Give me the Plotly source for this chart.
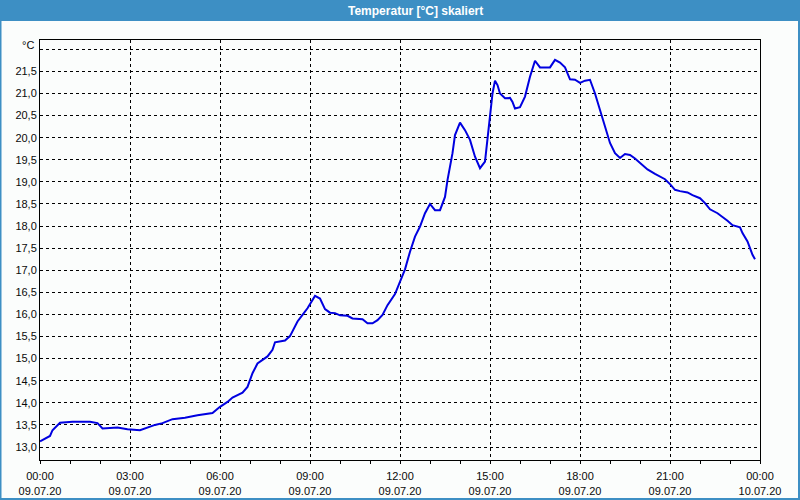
import plotly.graph_objects as go
from datetime import datetime, timedelta

# ---- data ----
times = ["00:00","00:20","00:25","00:35","00:40","01:05","01:40","01:55","02:05","02:35",
         "02:55","03:20","03:50","04:05","04:25","04:50","05:15","05:45","06:00","06:15",
         "06:25","06:45","06:55","07:05","07:15","07:35","07:45","07:50","08:10","08:20",
         "08:35","08:45","08:55","09:10","09:20","09:30","09:40","09:50","10:00","10:15",
         "10:25","10:45","10:55","11:05","11:15","11:25","11:35","11:50","12:00","12:10",
         "12:20","12:30","12:40","12:50","13:00","13:10","13:20","13:30","13:35","13:45",
         "13:50","14:00","14:10","14:20","14:30","14:40","14:50","14:55","15:00","15:05",
         "15:10","15:15","15:20","15:30","15:40","15:45","15:50","16:00","16:10","16:20",
         "16:30","16:40","16:50","17:00","17:10","17:20","17:30","17:40","17:50","18:00",
         "18:10","18:20","18:30","18:40","18:50","19:00","19:10","19:20","19:30","19:40",
         "19:50","20:05","20:15","20:30","20:40","20:50","21:00","21:10","21:20","21:35",
         "21:45","22:00","22:10","22:20","22:35","22:45","22:55","23:05","23:20","23:25",
         "23:35","23:40","23:45","23:50"]
temps = [13.13,13.25,13.38,13.50,13.55,13.57,13.57,13.54,13.42,13.44,
         13.40,13.38,13.50,13.54,13.63,13.66,13.72,13.77,13.91,14.02,
         14.12,14.23,14.36,14.67,14.89,15.05,15.20,15.37,15.41,15.51,
         15.84,15.99,16.14,16.42,16.36,16.12,16.04,16.03,15.98,15.97,
         15.91,15.89,15.80,15.80,15.87,15.99,16.21,16.46,16.76,17.02,
         17.42,17.76,17.99,18.29,18.50,18.36,18.36,18.66,19.04,19.65,
         20.06,20.34,20.17,19.95,19.57,19.31,19.46,19.95,20.55,21.00,
         21.29,21.19,21.00,20.89,20.90,20.81,20.66,20.69,20.93,21.38,
         21.74,21.59,21.59,21.59,21.76,21.70,21.59,21.32,21.31,21.24,
         21.29,21.31,21.00,20.63,20.25,19.88,19.65,19.54,19.63,19.61,
         19.53,19.38,19.28,19.18,19.12,19.06,18.95,18.82,18.79,18.76,
         18.70,18.63,18.52,18.38,18.29,18.21,18.12,18.02,17.97,17.84,
         17.65,17.50,17.35,17.25]

x_tick_hours = [0, 3, 6, 9, 12, 15, 18, 21, 24]
x_tick_times = ["00:00","03:00","06:00","09:00","12:00","15:00","18:00","21:00","00:00"]
x_tick_dates = ["09.07.20"]*8 + ["10.07.20"]
y_tick_vals = [13.0,13.5,14.0,14.5,15.0,15.5,16.0,16.5,17.0,17.5,18.0,18.5,19.0,19.5,20.0,20.5,21.0,21.5,22.0]
y_tick_text = ["13,0","13,5","14,0","14,5","15,0","15,5","16,0","16,5","17,0","17,5",
               "18,0","18,5","19,0","19,5","20,0","20,5","21,0","21,5",""]
title_text = "Temperatur [°C] skaliert"
unit_text = "°C"

day0 = datetime(2020, 7, 9)
xs = [day0 + timedelta(hours=int(t[:2]), minutes=int(t[3:])) for t in times]
xt = [day0 + timedelta(hours=h) for h in x_tick_hours]
xt_text = [f"{a}<br>{b}" for a, b in zip(x_tick_times, x_tick_dates)]
minor_vals = [day0 + timedelta(hours=h) for h in range(25)]

FONT = "Liberation Sans, Arial, sans-serif"
BLUE = "#3d8fc4"
BG = "#fbfdfc"
TXT = "#0a0a0a"

fig = go.Figure()
fig.add_trace(go.Scatter(x=xs, y=temps, mode="lines",
                         line=dict(color="#0000e0", width=2), hoverinfo="skip"))

W, H = 800, 500
L, R, T, B = 40, 40, 40, 40
pw, ph = W - L - R, H - T - B
def px_x(p):
    return (p - L) / pw
def px_y(p):
    return (H - B - p) / ph

shapes = [
    dict(type="rect", xref="paper", yref="paper", x0=px_x(0), x1=px_x(800), y0=px_y(21), y1=px_y(0),
         fillcolor=BLUE, line=dict(width=0), layer="below"),
    dict(type="rect", xref="paper", yref="paper", x0=px_x(0), x1=px_x(1.5), y0=px_y(500), y1=px_y(20),
         fillcolor=BLUE, line=dict(width=0), layer="below"),
    dict(type="rect", xref="paper", yref="paper", x0=px_x(798), x1=px_x(800), y0=px_y(500), y1=px_y(20),
         fillcolor=BLUE, line=dict(width=0), layer="below"),
    dict(type="rect", xref="paper", yref="paper", x0=px_x(0), x1=px_x(800), y0=px_y(500), y1=px_y(498),
         fillcolor=BLUE, line=dict(width=0), layer="below"),
]

fig.update_layout(
    width=W, height=H,
    margin=dict(l=L, r=R, t=T, b=B, pad=0, autoexpand=False),
    paper_bgcolor=BG, plot_bgcolor=BG,
    showlegend=False,
    font=dict(family=FONT, size=11, color=TXT),
    shapes=shapes,
    annotations=[
        dict(text=f"<b>{title_text}</b>", xref="paper", yref="paper", x=px_x(415), y=px_y(10.5),
             xanchor="center", yanchor="middle", showarrow=False,
             font=dict(family=FONT, size=12, color="white")),
        dict(text=unit_text, xref="paper", yref="paper", x=px_x(36), y=px_y(45),
             xanchor="right", yanchor="middle", showarrow=False,
             font=dict(family=FONT, size=11, color=TXT)),
    ],
    xaxis=dict(
        type="date", range=[day0, day0 + timedelta(hours=24)], automargin=False,
        tickmode="array", tickvals=xt, ticktext=xt_text,
        ticks="outside", ticklen=3, tickcolor="black", tickwidth=1,
        ticklabelstandoff=3,
        showgrid=True, gridcolor="black", gridwidth=1, griddash="3px,3px",
        showline=True, linecolor="black", linewidth=1, mirror=True,
        zeroline=False,
        minor=dict(tickmode="array", tickvals=minor_vals, ticks="outside", ticklen=3,
                   tickcolor="black", showgrid=False),
        tickfont=dict(family=FONT, size=11, color=TXT),
    ),
    yaxis=dict(
        range=[12.706, 22.21], automargin=False,
        tickmode="array", tickvals=y_tick_vals, ticktext=y_tick_text,
        ticks="", showgrid=True, gridcolor="black", gridwidth=1, griddash="3px,3px",
        showline=True, linecolor="black", linewidth=1, mirror=True,
        zeroline=False,
        tickfont=dict(family=FONT, size=11, color=TXT),
    ),
)

fig.write_html("out.html")
